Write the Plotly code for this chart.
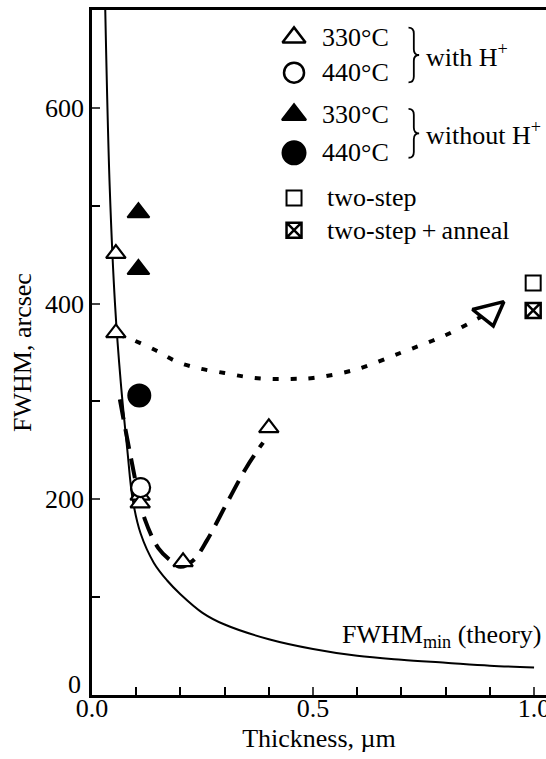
import plotly.graph_objects as go

FONT = "Liberation Serif"

# ---- data ----
theory_x = [0.03, 0.04, 0.052, 0.065, 0.08, 0.092, 0.11, 0.14, 0.17, 0.2, 0.25, 0.3, 0.4, 0.5, 0.6, 0.7, 0.8, 0.9, 1.0]
theory_y = [700, 520, 400, 320, 250, 200, 165, 135, 117, 103, 84, 72, 57, 47, 40, 36, 33, 30, 28]

withH_330_x = [0.054, 0.054, 0.109, 0.109, 0.206, 0.40]
withH_330_y = [451, 370, 204, 196, 136, 273]
withH_440_x = [0.11]
withH_440_y = [212]
noH_330_x = [0.105, 0.105]
noH_330_y = [493, 435]
noH_440_x = [0.107]
noH_440_y = [306]
twostep_x = [0.998]
twostep_y = [421]
anneal_x = [0.998]
anneal_y = [393]

dotted_x = [0.06, 0.086, 0.145, 0.19, 0.24, 0.30, 0.35, 0.40, 0.45, 0.50, 0.60, 0.70, 0.77, 0.82, 0.87, 0.90]
dotted_y = [368, 364, 352, 341, 334, 329, 325, 323, 323, 324, 333, 350, 362, 372, 384, 391]
dashed_x = [0.063, 0.086, 0.105, 0.12, 0.15, 0.176, 0.20, 0.23, 0.26, 0.305, 0.35, 0.387]
dashed_y = [302, 247, 205, 179, 150, 138, 131, 138, 158, 196, 233, 258]
arrow_x = [0.90]
arrow_y = [391]

legend_labels = ["330°C", "440°C", "330°C", "440°C", "two-step", "two-step\u2009+\u2009anneal"]
group_labels = ["with H<sup>+</sup>", "without H<sup>+</sup>"]
x_ticks = [0.0, 0.5, 1.0]
x_ticktext = ["0.0", "0.5", "1.0"]
y_ticks = [0, 200, 400, 600]
y_ticktext = ["", "200", "400", "600"]
y_zero_label = "0"

# ---- layout constants ----
LEG_X = 0.457
LEG_TX = 0.516
LEG_Y = [672, 636, 593, 554, 508, 475]
BRACES = [(682, 626), (599, 549)]
BR_X0, BR_X1 = 0.716, 0.74
FS = 26

fig = go.Figure()

fig.add_trace(go.Scatter(x=theory_x, y=theory_y, mode="lines", line=dict(color="black", width=2, shape="spline"), showlegend=False))
fig.add_trace(go.Scatter(x=dotted_x, y=dotted_y, mode="lines", line=dict(color="black", width=4, dash="6px,12px", shape="spline"), showlegend=False))
fig.add_trace(go.Scatter(x=dashed_x, y=dashed_y, mode="lines", line=dict(color="black", width=4, dash="20px,10px", shape="spline"), showlegend=False))

def mk(x, y, sym, size, lw=2):
    fig.add_trace(go.Scatter(x=x, y=y, mode="markers", showlegend=False,
                             marker=dict(symbol=sym, size=size, color="black", line=dict(color="black", width=lw))))

def mk_open(x, y, sym, size, lw=2):
    fig.add_trace(go.Scatter(x=x, y=y, mode="markers", showlegend=False,
                             marker=dict(symbol=sym, size=size, color="white", line=dict(color="black", width=lw))))

mk_open(withH_330_x, withH_330_y, "triangle-up", 17, 2.2)
mk_open(withH_440_x, withH_440_y, "circle", 19, 2.2)
mk(noH_330_x, noH_330_y, "triangle-up", 19)
mk(noH_440_x, noH_440_y, "circle", 22)
mk_open(twostep_x, twostep_y, "square", 15, 2)
fig.add_trace(go.Scatter(x=anneal_x, y=anneal_y, mode="markers", showlegend=False,
                         marker=dict(symbol="square-x-open", size=15, color="black", line=dict(width=2.5))))
fig.add_trace(go.Scatter(x=arrow_x, y=arrow_y, mode="markers", showlegend=False,
                         marker=dict(symbol="triangle-down", size=28, angle=-14, color="white", line=dict(color="black", width=3.5))))

# legend symbols
mk_open([LEG_X], [LEG_Y[0]], "triangle-up", 20, 2.5)
mk_open([LEG_X], [LEG_Y[1]], "circle", 20, 2.5)
mk([LEG_X], [LEG_Y[2]], "triangle-up", 21)
mk([LEG_X], [LEG_Y[3]], "circle", 23)
mk_open([LEG_X], [LEG_Y[4]], "square", 15, 2)
fig.add_trace(go.Scatter(x=[LEG_X], y=[LEG_Y[5]], mode="markers", showlegend=False,
                         marker=dict(symbol="square-x-open", size=15, color="black", line=dict(width=2.5))))

ann = []
for lab, yy in zip(legend_labels, LEG_Y):
    xx = LEG_TX + (0.012 if "two" in lab else 0)
    ann.append(dict(x=xx, y=yy, text=lab, showarrow=False, xanchor="left", yanchor="middle",
                    font=dict(family=FONT, size=FS, color="black")))

shapes = []
for (yt, yb), lab in zip(BRACES, group_labels):
    ym = (yt + yb) / 2
    xm = (BR_X0 + BR_X1) / 2
    d = 6
    path = (f"M {BR_X0},{yt} Q {xm},{yt} {xm},{yt - d} L {xm},{ym + d} Q {xm},{ym} {BR_X1},{ym} "
            f"Q {xm},{ym} {xm},{ym - d} L {xm},{yb + d} Q {xm},{yb} {BR_X0},{yb}")
    shapes.append(dict(type="path", path=path, xref="x", yref="y", line=dict(color="black", width=1.8)))
    ann.append(dict(x=0.752, y=ym, text=lab, showarrow=False, xanchor="left", yanchor="middle",
                    font=dict(family=FONT, size=FS, color="black")))
ann.append(dict(x=1.02, y=60, text="FWHM<sub>min</sub> (theory)", showarrow=False, xanchor="right", yanchor="middle",
                font=dict(family=FONT, size=FS, color="black")))
ann.append(dict(xref="paper", x=0, xshift=-9, y=y_ticks[0], yshift=11, text=y_zero_label, showarrow=False,
                xanchor="right", yanchor="middle", font=dict(family=FONT, size=FS, color="black")))

fig.update_layout(
    width=546, height=759,
    margin=dict(l=92, r=0, t=10, b=64, autoexpand=False),
    paper_bgcolor="white", plot_bgcolor="white",
    font=dict(family=FONT, size=FS, color="black"),
    annotations=ann, shapes=shapes,
    xaxis=dict(range=[0, 1.027], tickvals=x_ticks, ticktext=x_ticktext, ticks="inside", ticklen=8, tickwidth=1.5,
               minor=dict(dtick=0.1, ticks="inside", ticklen=8, tickwidth=1.5, tickcolor="black"),
               showline=True, linecolor="black", linewidth=2.5, mirror=True, showgrid=False, zeroline=False,
               ticklabeloverflow="allow", ticklabelstandoff=-12, automargin=False,
               title=dict(text="Thickness, µm", standoff=7, font=dict(size=FS, color="black")), tickfont=dict(size=FS)),
    yaxis=dict(range=[0, 700], tickvals=y_ticks, ticktext=y_ticktext, ticks="inside", ticklen=8, tickwidth=1.5,
               minor=dict(dtick=100, ticks="inside", ticklen=8, tickwidth=1.5, tickcolor="black"),
               showline=True, linecolor="black", linewidth=2.5, showgrid=False, zeroline=False,
               ticklabeloverflow="allow", automargin=False,
               title=dict(text="FWHM, arcsec", standoff=6, font=dict(size=FS, color="black")), tickfont=dict(size=FS)),
)

fig.write_html("out.html", config={"displayModeBar": False},
               post_script="document.body.style.margin='0px';document.body.style.overflow='hidden';")
